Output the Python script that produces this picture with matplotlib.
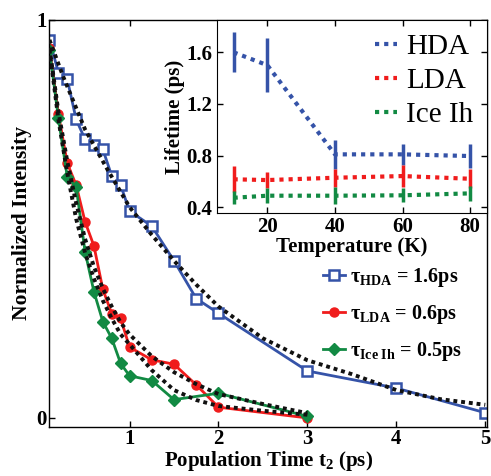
import matplotlib
matplotlib.use("Agg")
import matplotlib.pyplot as plt

plt.rcParams['font.family'] = ['Liberation Serif', 'DejaVu Serif']
plt.rcParams['mathtext.fontset'] = 'custom'
plt.rcParams['mathtext.rm'] = 'Liberation Serif'
plt.rcParams['mathtext.bf'] = 'Liberation Serif:bold'
plt.rcParams['mathtext.it'] = 'Liberation Serif:italic'

# ---------------- main data ----------------
t_hda = [0.1, 0.2, 0.3, 0.4, 0.5, 0.6, 0.7, 0.8, 0.9, 1.0, 1.25, 1.5, 1.75, 2.0, 3.0, 4.0, 5.0]
i_hda = [0.95, 0.868, 0.851, 0.75, 0.70, 0.686, 0.675, 0.608, 0.585, 0.52, 0.482, 0.395, 0.30, 0.263, 0.118, 0.075, 0.013]

t_lda = [0.1, 0.2, 0.3, 0.4, 0.5, 0.6, 0.7, 0.8, 0.9, 1.0, 1.25, 1.5, 1.75, 2.0, 3.0]
i_lda = [0.929, 0.764, 0.64, 0.585, 0.493, 0.432, 0.323, 0.262, 0.25, 0.178, 0.146, 0.135, 0.083, 0.027, 0.0]

t_ice = [0.1, 0.2, 0.3, 0.4, 0.5, 0.6, 0.7, 0.8, 0.9, 1.0, 1.25, 1.5, 2.0, 3.0]
i_ice = [0.925, 0.753, 0.606, 0.58, 0.418, 0.317, 0.242, 0.20, 0.137, 0.106, 0.094, 0.046, 0.062, 0.004]

# exponential fit curves
tf_hda = [0.1, 0.25, 0.5, 0.75, 1.0, 1.25, 1.5, 1.75, 2.0, 2.5, 3.0, 3.5, 4.0, 4.5, 5.0]
if_hda = [0.95, 0.86, 0.725, 0.625, 0.53, 0.46, 0.395, 0.335, 0.28, 0.20, 0.145, 0.11, 0.07, 0.047, 0.033]

tf_lda = [0.1, 0.2, 0.3, 0.4, 0.5, 0.6, 0.7, 0.8, 0.9, 1.0, 1.25, 1.5, 1.75, 2.0, 2.5, 3.0]
if_lda = [0.93, 0.77, 0.645, 0.54, 0.45, 0.38, 0.325, 0.28, 0.24, 0.21, 0.155, 0.115, 0.085, 0.06, 0.035, 0.012]

tf_ice = [0.1, 0.2, 0.3, 0.4, 0.5, 0.6, 0.7, 0.8, 0.9, 1.0, 1.25, 1.5, 1.75, 2.0, 2.5, 3.0]
if_ice = [0.925, 0.75, 0.615, 0.50, 0.415, 0.35, 0.295, 0.25, 0.21, 0.185, 0.12, 0.07, 0.045, 0.03, 0.018, 0.008]

main_labels = [r'τ$_{\mathbf{HDA}}$ = 1.6ps', r'τ$_{\mathbf{LDA}}$ = 0.6ps', r'τ$_{\mathbf{Ice\ Ih}}$ = 0.5ps']
main_xticks = [1, 2, 3, 4, 5]
main_yticks = [0, 1]

# ---------------- inset data ----------------
temps = [10, 20, 40, 60, 80]
life_hda = [1.60, 1.50, 0.81, 0.81, 0.797]
err_hda = [0.155, 0.207, 0.11, 0.084, 0.09]
life_lda = [0.617, 0.611, 0.629, 0.642, 0.621]
err_lda = [0.10, 0.065, 0.07, 0.085, 0.073]
life_ice = [0.474, 0.49, 0.49, 0.493, 0.508]
err_ice = [0.05, 0.06, 0.067, 0.054, 0.06]
inset_labels = ['HDA', 'LDA', 'Ice Ih']
inset_xticks = [20, 40, 60, 80]
inset_yticks = [0.4, 0.8, 1.2, 1.6]

BLUE = '#3553a8'
RED = '#f01c1c'
GREEN = '#128a43'

fig = plt.figure(figsize=(4.91, 4.76), dpi=100)
ax = fig.add_axes([0.1008, 0.1036, 0.8911, 0.8544])

ax.plot(t_hda, i_hda, '-s', color=BLUE, lw=2.0, ms=7, mfc='white', mec=BLUE, mew=1.8,
        label=main_labels[0], zorder=2)
ax.plot(t_lda, i_lda, '-o', color=RED, lw=2.0, ms=6.5, mfc=RED, mec=RED,
        label=main_labels[1], zorder=2)
ax.plot(t_ice, i_ice, '-D', color=GREEN, lw=2.0, ms=5.8, mfc=GREEN, mec=GREEN,
        label=main_labels[2], zorder=2)
for tf, yf in [(tf_hda, if_hda), (tf_lda, if_lda), (tf_ice, if_ice)]:
    ax.plot(tf, yf, color='#111111', lw=2.8, linestyle=(0, (1, 1)), zorder=3)

ax.set_xlim(0.1, 5.02)
ax.set_ylim(-0.022, 1.0)
ax.set_xticks(main_xticks)
ax.set_yticks(main_yticks)
ax.set_xticklabels([str(v) for v in main_xticks], fontsize=15, fontweight='bold')
ax.set_yticklabels([str(v) for v in main_yticks], fontsize=15, fontweight='bold')
ax.tick_params(direction='in', length=4, width=1, top=True, right=True, pad=2)
ax.set_xlabel(r'Population Time t$_\mathbf{2}$ (ps)', fontsize=15, fontweight='bold', labelpad=0)
ax.set_ylabel('Normalized Intensity', fontsize=15.5, fontweight='bold', labelpad=3)
for s in ax.spines.values():
    s.set_linewidth(1.0)

leg = ax.legend(loc='upper left', bbox_to_anchor=(0.625, 0.395), frameon=False,
                prop={'family': 'Liberation Serif', 'weight': 'bold', 'size': 14.5},
                handlelength=1.1, handletextpad=0.25, labelspacing=0.7,
                borderaxespad=0, borderpad=0)

# ---------------- inset ----------------
ins = fig.add_axes([0.4413, 0.5525, 0.5506, 0.4055])
for y, e, c, lab in [(life_hda, err_hda, BLUE, inset_labels[0]),
                     (life_lda, err_lda, RED, inset_labels[1]),
                     (life_ice, err_ice, GREEN, inset_labels[2])]:
    ins.errorbar(temps, y, yerr=e, fmt='none', ecolor=c, elinewidth=2.5, capsize=0)
    ins.plot(temps, y, color=c, lw=3, linestyle=(0, (1, 1.2)), label=lab)

ins.set_xlim(5, 85)
ins.set_ylim(0.356, 1.85)
ins.set_xticks(inset_xticks)
ins.set_yticks(inset_yticks)
ins.set_xticklabels([str(v) for v in inset_xticks], fontsize=15, fontweight='bold')
ins.set_yticklabels(['%.1f' % v for v in inset_yticks], fontsize=15, fontweight='bold')
ins.tick_params(direction='in', length=4, width=1, top=True, right=True, pad=3)
ins.set_xlabel('Temperature (K)', fontsize=15, fontweight='bold', labelpad=0)
ins.set_ylabel('Lifetime (ps)', fontsize=15, fontweight='bold', labelpad=1)
ins.legend(loc='upper left', bbox_to_anchor=(0.586, 0.93), frameon=False,
           prop={'family': 'Liberation Serif', 'size': 21},
           handlelength=0.75, handletextpad=0.3, labelspacing=0.26,
           borderaxespad=0, borderpad=0)

fig.savefig('out.png', dpi=100)
